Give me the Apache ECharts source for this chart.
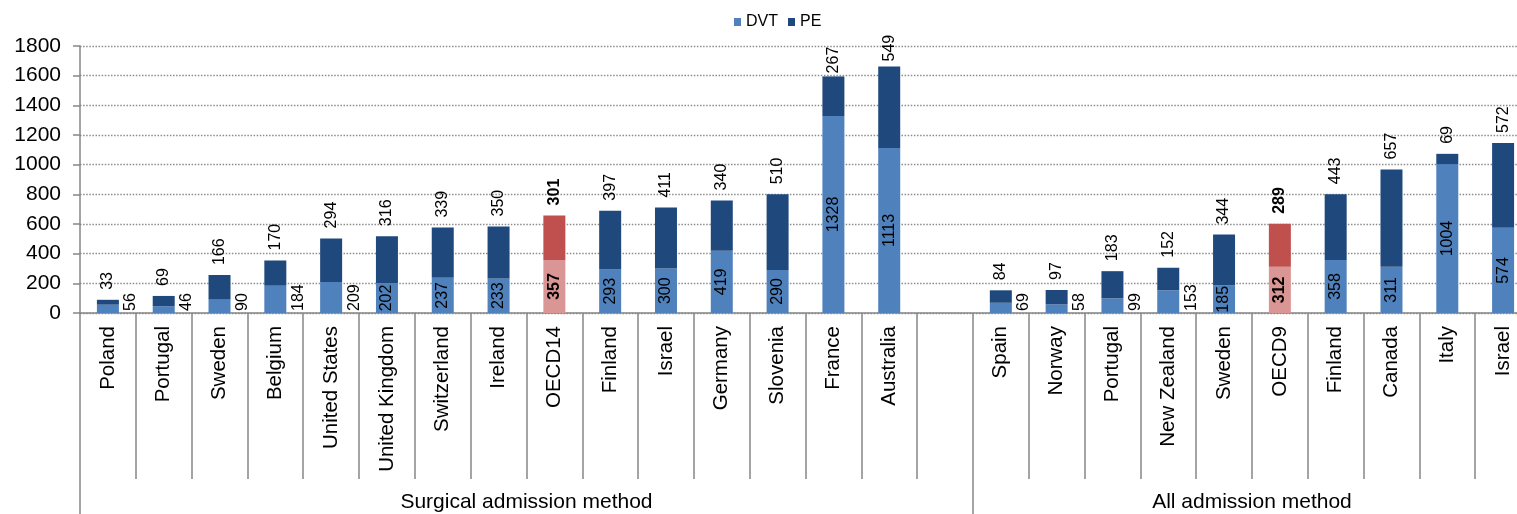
<!DOCTYPE html>
<html>
<head>
<meta charset="utf-8">
<script src="https://cdn.jsdelivr.net/npm/echarts@6/dist/echarts.min.js"></script>
<style>
  html, body { margin: 0; padding: 0; background: #ffffff; }
  #chart { width: 1517px; height: 514px; }
</style>
</head>
<body>
<div id="chart"></div>
<script>
// Categories along the x axis; the empty entry separates the two groups
const categories = [
  'Poland', 'Portugal', 'Sweden', 'Belgium', 'United States', 'United Kingdom',
  'Switzerland', 'Ireland', 'OECD14', 'Finland', 'Israel', 'Germany', 'Slovenia',
  'France', 'Australia', '',
  'Spain', 'Norway', 'Portugal', 'New Zealand', 'Sweden', 'OECD9', 'Finland',
  'Canada', 'Italy', 'Israel'
];
// Deep vein thrombosis rates
const dvtValues = [
  56, 46, 90, 184, 209, 202, 237, 233, 357, 293, 300, 419, 290, 1328, 1113, null,
  69, 58, 99, 153, 185, 312, 358, 311, 1004, 574
];
// Pulmonary embolism rates
const peValues = [
  33, 69, 166, 170, 294, 316, 339, 350, 301, 397, 411, 340, 510, 267, 549, null,
  84, 97, 183, 152, 344, 289, 443, 657, 69, 572
];
// Group labels under the country names and how many categories each spans
const groupNames = ['Surgical admission method', 'All admission method'];
const groupSizes = [16, 10];
// Value axis range
const yMin = 0, yMax = 1800, yStep = 200;

// Averages drawn in red, small DVT values labelled beside their bar
const averageIdx = new Set([8, 21]);
const sideLabelIdx = new Set([0, 1, 2, 3, 4, 16, 17, 18, 19]);
const peLabelGap = { 13: 3, 14: 5 };

const COLORS = { dvt: '#4F81BD', pe: '#1F497D', dvtAvg: '#DA9694', peAvg: '#C0504D' };
const FONT = '"Liberation Sans", Arial, sans-serif';
const AXIS_GREY = '#868686';

// Group boundaries and centres on a 0..N scale that shares the category positions
const boundaries = [0];
const centres = [];
groupSizes.forEach(n => {
  const start = boundaries[boundaries.length - 1];
  centres.push(start + n / 2);
  boundaries.push(start + n);
});
const total = categories.length;

const dvtData = dvtValues.map((v, i) => {
  const item = { value: v };
  if (averageIdx.has(i)) {
    item.itemStyle = { color: COLORS.dvtAvg };
    item.label = { fontWeight: 'bold' };
  }
  if (sideLabelIdx.has(i)) {
    item.label = Object.assign(item.label || {}, {
      position: ['100%', '100%'],
      align: 'left',
      verticalAlign: 'top',
      padding: [4, 0, 0, 2]
    });
  }
  return item;
});

const peData = peValues.map((v, i) => {
  const item = { value: v };
  if (averageIdx.has(i)) {
    item.itemStyle = { color: COLORS.peAvg };
    item.label = { fontWeight: 'bold' };
  }
  if (peLabelGap[i] != null) {
    item.label = Object.assign(item.label || {}, { distance: peLabelGap[i] });
  }
  return item;
});

const chart = echarts.init(document.getElementById('chart'), null, { renderer: 'canvas' });

chart.setOption({
  animation: false,
  textStyle: { fontFamily: FONT },
  legend: {
    top: 9,
    left: 729,
    itemWidth: 7,
    itemHeight: 8,
    itemGap: 10,
    icon: 'rect',
    textStyle: { fontSize: 16, color: '#000', fontFamily: FONT },
    data: ['DVT', 'PE']
  },
  grid: {
    left: 80, top: 46, width: 1451, height: 267,
    containLabel: false,
    outerBoundsMode: 'none'
  },
  xAxis: [
    {
      type: 'category',
      data: categories,
      boundaryGap: true,
      axisLine: { show: true, lineStyle: { color: AXIS_GREY, width: 1.5 } },
      axisTick: { show: true, interval: 0, length: 166, lineStyle: { color: AXIS_GREY, width: 1.5 } },
      axisLabel: {
        interval: 0,
        rotate: 90,
        margin: 13,
        fontSize: 20.5,
        color: '#000',
        fontFamily: FONT
      },
      splitLine: { show: false }
    },
    {
      type: 'value',
      position: 'bottom',
      min: 0,
      max: total,
      axisLine: { show: false },
      axisTick: {
        show: true,
        customValues: boundaries,
        length: 205,
        lineStyle: { color: AXIS_GREY, width: 1.5 }
      },
      axisLabel: {
        show: true,
        customValues: centres,
        margin: 179,
        fontSize: 21,
        color: '#000',
        fontFamily: FONT,
        formatter: v => groupNames[centres.indexOf(v)] || ''
      },
      splitLine: { show: false }
    }
  ],
  yAxis: {
    type: 'value',
    min: yMin,
    max: yMax,
    interval: yStep,
    axisLine: { show: true, lineStyle: { color: AXIS_GREY, width: 1.5 } },
    axisTick: { show: true, length: 7, lineStyle: { color: AXIS_GREY, width: 1.5 } },
    axisLabel: {
      margin: 19,
      fontSize: 21,
      color: '#000',
      fontFamily: FONT,
      formatter: v => String(v)
    },
    splitLine: { show: true, lineStyle: { color: '#8C8C8C', width: 1.3, type: [1.5, 1.6] } }
  },
  series: [
    {
      name: 'DVT',
      type: 'bar',
      stack: 'rate',
      barWidth: 22,
      itemStyle: { color: COLORS.dvt },
      label: {
        show: true,
        position: 'inside',
        rotate: 90,
        fontSize: 16,
        color: '#000',
        fontFamily: FONT
      },
      data: dvtData
    },
    {
      name: 'PE',
      type: 'bar',
      stack: 'rate',
      barWidth: 22,
      itemStyle: { color: COLORS.pe },
      label: {
        show: true,
        position: 'top',
        distance: 10,
        rotate: 90,
        align: 'left',
        verticalAlign: 'middle',
        fontSize: 16,
        color: '#000',
        fontFamily: FONT
      },
      data: peData
    }
  ]
});
</script>
</body>
</html>
